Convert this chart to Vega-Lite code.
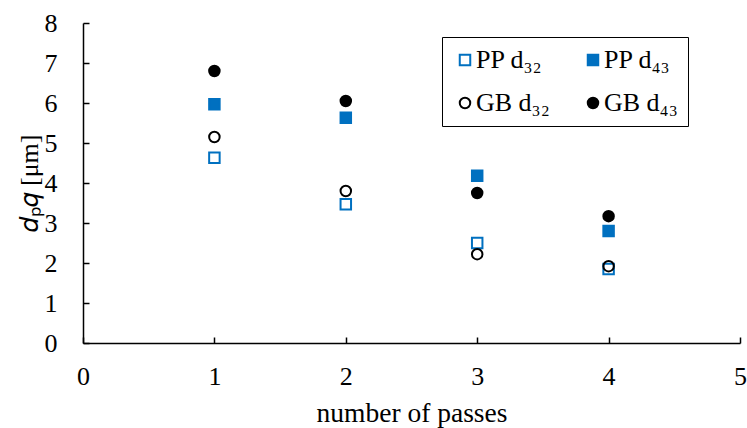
{
  "$schema": "https://vega.github.io/schema/vega-lite/v6.json",
  "width": 657,
  "height": 320,
  "autosize": "none",
  "padding": {"left": 83, "top": 23, "right": 7, "bottom": 85},
  "background": "white",
  "config": {
    "font": "Liberation Serif, Times New Roman, serif",
    "view": {"stroke": null},
    "axis": {"labelFont": "Liberation Serif, Times New Roman, serif", "titleFont": "Liberation Serif, Times New Roman, serif"}
  },
  "data": {
    "values": [
      {"passes": 1, "series": "PP d₃₂", "d": 4.63},
      {"passes": 1, "series": "PP d₄₃", "d": 5.97},
      {"passes": 1, "series": "GB d₃₂", "d": 5.15},
      {"passes": 1, "series": "GB d₄₃", "d": 6.8},
      {"passes": 2, "series": "PP d₃₂", "d": 3.47},
      {"passes": 2, "series": "PP d₄₃", "d": 5.63},
      {"passes": 2, "series": "GB d₃₂", "d": 3.8},
      {"passes": 2, "series": "GB d₄₃", "d": 6.05},
      {"passes": 3, "series": "PP d₃₂", "d": 2.5},
      {"passes": 3, "series": "PP d₄₃", "d": 4.18},
      {"passes": 3, "series": "GB d₃₂", "d": 2.22},
      {"passes": 3, "series": "GB d₄₃", "d": 3.75},
      {"passes": 4, "series": "PP d₃₂", "d": 1.85},
      {"passes": 4, "series": "PP d₄₃", "d": 2.8},
      {"passes": 4, "series": "GB d₃₂", "d": 1.92},
      {"passes": 4, "series": "GB d₄₃", "d": 3.17}
    ]
  },
  "mark": {"type": "point", "filled": false, "strokeWidth": 2, "opacity": 1, "size": 110},
  "encoding": {
    "x": {
      "field": "passes", "type": "quantitative",
      "scale": {"domain": [0, 5], "nice": false},
      "axis": {
        "title": "number of passes", "values": [0, 1, 2, 3, 4, 5], "grid": false,
        "domainColor": "black", "domainWidth": 1.5, "tickColor": "black", "tickWidth": 1.5,
        "tickSize": -6, "labelPadding": 26, "labelFontSize": 26, "labelColor": "black",
        "titleFontSize": 27.5, "titleFontWeight": "normal", "titleColor": "black", "titlePadding": 10,
        "labelFlush": false
      }
    },
    "y": {
      "field": "d", "type": "quantitative",
      "scale": {"domain": [0, 8], "nice": false},
      "axis": {
        "title": "𝑑ₚ𝑞 [μm]", "values": [0, 1, 2, 3, 4, 5, 6, 7, 8], "grid": false,
        "domainColor": "black", "domainWidth": 1.5, "tickColor": "black", "tickWidth": 1.5,
        "tickSize": -6, "labelPadding": 32, "labelFontSize": 26, "labelColor": "black",
        "titleFontSize": 26, "titleFontWeight": "normal", "titleColor": "black", "titlePadding": 2,
        "labelFlush": false
      }
    },
    "shape": {
      "field": "series", "type": "nominal",
      "scale": {"domain": ["PP d₃₂", "PP d₄₃", "GB d₃₂", "GB d₄₃"], "range": ["square", "square", "circle", "circle"]},
      "legend": {
        "title": null, "orient": "none", "legendX": 359, "legendY": 14, "columns": 2,
        "direction": "horizontal",
        "strokeColor": "black", "fillColor": "white", "padding": 10,
        "labelFontSize": 26, "labelColor": "black", "symbolSize": 110, "symbolStrokeWidth": 2,
        "columnPadding": 30, "rowPadding": 17, "labelOffset": -2
      }
    },
    "stroke": {
      "field": "series", "type": "nominal",
      "scale": {"domain": ["PP d₃₂", "PP d₄₃", "GB d₃₂", "GB d₄₃"], "range": ["#0070C0", "#0070C0", "black", "black"]}
    },
    "fill": {
      "field": "series", "type": "nominal",
      "scale": {"domain": ["PP d₃₂", "PP d₄₃", "GB d₃₂", "GB d₄₃"], "range": ["transparent", "#0070C0", "transparent", "black"]}
    }
  }
}
